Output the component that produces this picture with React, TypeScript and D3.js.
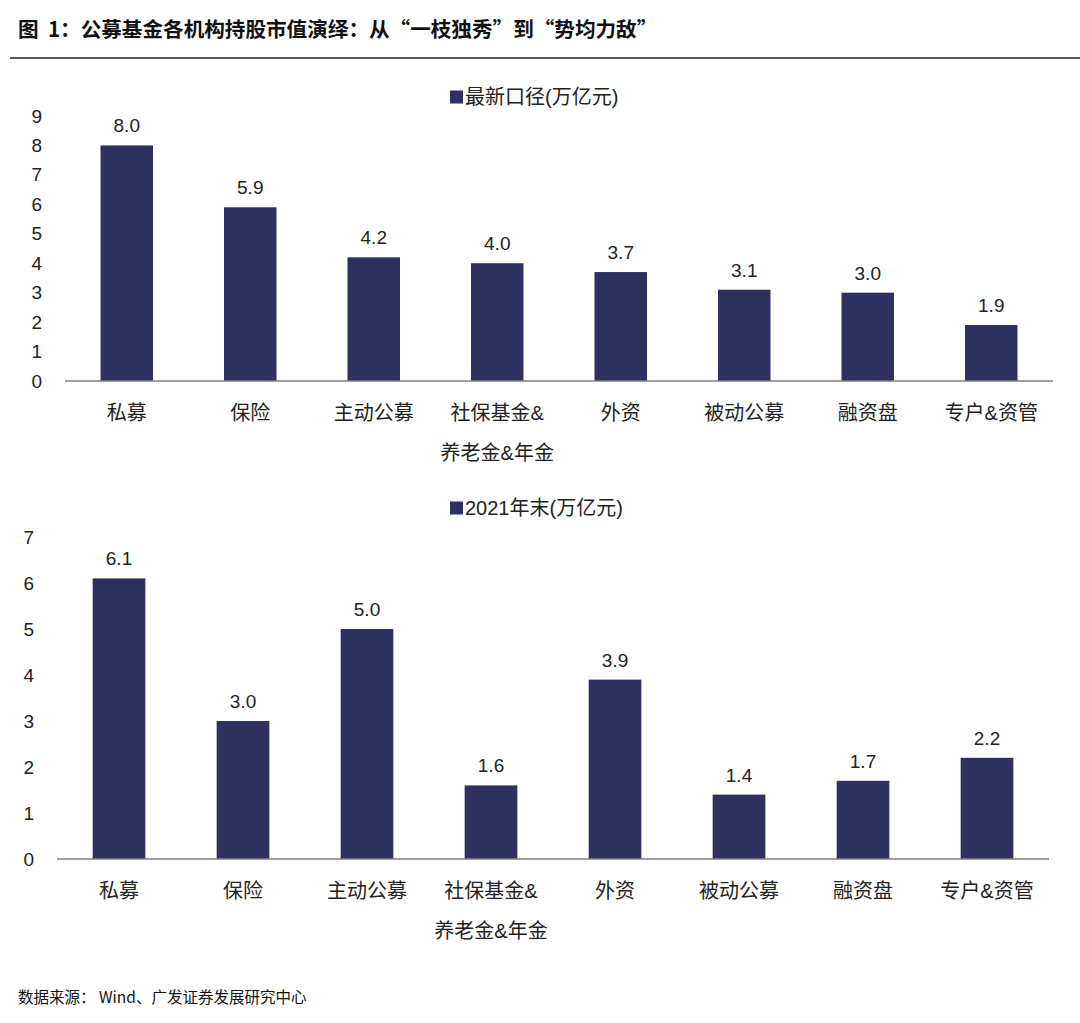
import { useEffect } from 'react';
import * as d3 from 'd3';

const categories = ['私募', '保险', '主动公募', '社保基金&\n养老金&年金', '外资', '被动公募', '融资盘', '专户&资管'];
const latestValues = [8.0, 5.9, 4.2, 4.0, 3.7, 3.1, 3.0, 1.9];
const endOf2021Values = [6.1, 3.0, 5.0, 1.6, 3.9, 1.4, 1.7, 2.2];
const latestTicks = [0, 1, 2, 3, 4, 5, 6, 7, 8, 9];
const endOf2021Ticks = [0, 1, 2, 3, 4, 5, 6, 7];

const TITLE = '图  1：公募基金各机构持股市值演绎：从“一枝独秀”到“势均力敌”';
const SOURCE = '数据来源： Wind、广发证券发展研究中心';

const BAR_COLOR = '#2E3060';
const FONT = '"Liberation Sans", Arial, "Noto Sans CJK SC", sans-serif';
const CJK_FONT = '"Noto Sans CJK SC", "Liberation Sans", sans-serif';
const W = 1080;
const H = 1023;

interface PanelProps {
  values: number[];
  ticks: number[];
  legend: string;
  top: number; // y of max tick
  bottom: number; // y of zero line
  left: number;
  right: number;
  tickX: number;
  legendY: number;
}

function BarPanel({ values, ticks, legend, top, bottom, left, right, tickX, legendY }: PanelProps) {
  const x = d3.scaleBand<string>()
    .domain(categories)
    .range([left, right])
    .paddingInner(0.575)
    .paddingOuter(0.2875);
  const y = d3.scaleLinear()
    .domain([0, d3.max(ticks) ?? 1])
    .range([bottom, top]);

  return (
    <g>
      {/* legend */}
      <rect x={450} y={legendY - 6.5} width={13} height={13} fill={BAR_COLOR} />
      <text x={465} y={legendY} dominantBaseline="central" fontSize={20} fill="#222">{legend}</text>

      {ticks.map((t) => (
        <text key={t} x={tickX} y={y(t)} textAnchor="end" dominantBaseline="central" fontSize={19} fill="#222">
          {t}
        </text>
      ))}

      {values.map((v, i) => {
        const cat = categories[i];
        return (
          <g key={cat}>
            <rect x={x(cat)} y={y(v)} width={x.bandwidth()} height={y(0) - y(v)} fill={BAR_COLOR} />
            <text
              x={(x(cat) ?? 0) + x.bandwidth() / 2}
              y={y(v) - 13}
              textAnchor="middle"
              fontSize={19}
              fill="#222"
            >
              {v.toFixed(1)}
            </text>
          </g>
        );
      })}

      <line x1={left} x2={right} y1={bottom} y2={bottom} stroke="#7f7f7f" strokeWidth={1.3} />

      {categories.map((c) => {
        const cx = (x(c) ?? 0) + x.bandwidth() / 2;
        return c.split('\n').map((ln, j) => (
          <text key={c + j} x={cx} y={bottom + 39 + j * 40} textAnchor="middle" fontSize={20} fill="#222">
            {ln}
          </text>
        ));
      })}
    </g>
  );
}

export default function App() {
  useEffect(() => {
    document.body.style.margin = '0';
  }, []);

  return (
    <svg width={W} height={H} viewBox={`0 0 ${W} ${H}`} style={{ display: 'block', background: '#fff', fontFamily: FONT }}>
      <text x={18} y={37} fontSize={20.6} fontWeight="bold" fill="#111" fontFamily={CJK_FONT} style={{ whiteSpace: 'pre' }}>{TITLE}</text>
      <line x1={10} x2={W} y1={58} y2={58} stroke="#222" strokeWidth={1.5} />

      <BarPanel
        values={latestValues}
        ticks={latestTicks}
        legend="最新口径(万亿元)"
        top={116}
        bottom={381}
        left={65}
        right={1053}
        tickX={42}
        legendY={97}
      />

      <BarPanel
        values={endOf2021Values}
        ticks={endOf2021Ticks}
        legend="2021年末(万亿元)"
        top={537}
        bottom={859}
        left={57}
        right={1049}
        tickX={34}
        legendY={508}
      />

      <text x={18} y={1003} fontSize={15.5} fill="#111" fontFamily={CJK_FONT} style={{ whiteSpace: 'pre' }}>{SOURCE}</text>
    </svg>
  );
}
